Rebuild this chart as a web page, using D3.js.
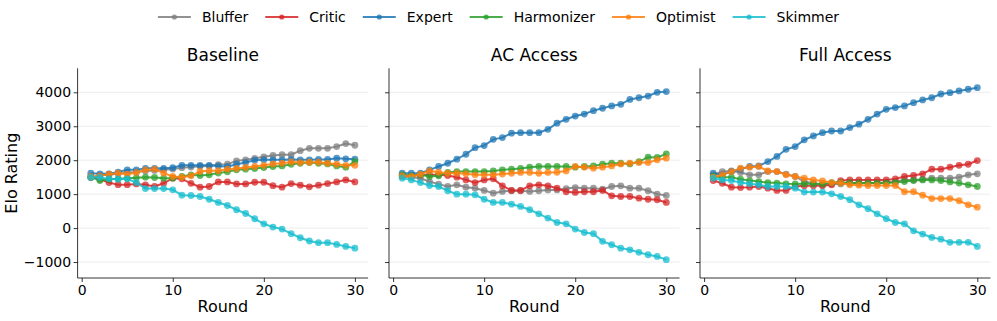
<!DOCTYPE html>
<html>
<head>
<meta charset="utf-8">
<script src="https://cdn.jsdelivr.net/npm/d3@7"></script>
<style>
  body { margin: 0; background: #fff; }
  svg { font-family: "DejaVu Sans", sans-serif; }
</style>
</head>
<body>
<div id="chart"></div>
<script>
const rounds = d3.range(1, 31);
const agents = ['Bluffer', 'Critic', 'Expert', 'Harmonizer', 'Optimist', 'Skimmer'];
const agentColors = ['#7f7f7f', '#d62728', '#1f77b4', '#2ca02c', '#ff7f0e', '#17becf'];
const panelTitles = ['Baseline', 'AC Access', 'Full Access'];
const yTicks = [-1000, 0, 1000, 2000, 3000, 4000];
const xTicks = [0, 10, 20, 30];

// Baseline
const baseBluffer = [1480,1550,1580,1600,1630,1650,1680,1700,1720,1740,1780,1800,1820,1830,1870,1880,1980,2010,2050,2100,2140,2160,2160,2280,2350,2350,2350,2400,2490,2440];
const baseCritic = [1520,1440,1340,1280,1280,1300,1275,1225,1320,1470,1450,1320,1205,1225,1360,1360,1300,1300,1350,1350,1250,1205,1310,1265,1215,1265,1310,1360,1420,1360];
const baseExpert = [1617,1600,1600,1650,1715,1715,1760,1760,1760,1780,1850,1850,1850,1850,1830,1810,1880,1930,2000,2010,2010,2010,2020,2010,2010,2020,2020,2060,2040,2030];
const baseHarmonizer = [1500,1400,1440,1450,1470,1480,1500,1490,1470,1470,1520,1570,1550,1570,1620,1660,1715,1735,1755,1785,1815,1830,1880,1910,1930,1910,1890,1830,1795,1960];
const baseOptimist = [1520,1540,1590,1620,1590,1640,1715,1735,1620,1520,1500,1540,1670,1690,1690,1735,1755,1785,1815,1850,1890,1910,1950,1930,1940,1940,1910,1880,1850,1850];
const baseSkimmer = [1500,1490,1450,1440,1450,1340,1165,1165,1165,1127,970,960,930,850,755,665,540,430,275,127,30,-30,-165,-285,-380,-430,-430,-480,-540,-590];

// AC Access
const acBluffer = [1520,1500,1470,1370,1295,1225,1275,1205,1175,1110,1030,1080,1100,1100,1080,1100,1125,1125,1165,1195,1175,1175,1145,1225,1245,1175,1175,1100,1000,960];
const acCritic = [1540,1540,1570,1570,1570,1550,1500,1420,1340,1420,1450,1245,1110,1110,1245,1275,1245,1175,1070,1050,1070,1070,1110,950,930,930,880,850,835,755];
const acExpert = [1615,1615,1615,1715,1815,1910,2030,2175,2370,2430,2615,2665,2795,2810,2810,2810,2910,3090,3205,3300,3360,3460,3530,3600,3645,3790,3840,3890,4000,4020];
const acHarmonizer = [1570,1540,1570,1520,1540,1640,1665,1665,1665,1665,1685,1715,1735,1755,1795,1815,1815,1815,1815,1795,1815,1830,1880,1910,1910,1890,1960,2090,2080,2185];
const acOptimist = [1540,1520,1590,1685,1645,1615,1615,1600,1570,1570,1570,1590,1615,1640,1640,1615,1640,1645,1685,1815,1795,1765,1795,1830,1890,1910,1930,1930,2010,2060];
const acSkimmer = [1470,1420,1340,1255,1225,1100,1000,1000,980,850,755,755,705,637,540,420,295,165,127,-30,-130,-165,-390,-490,-590,-640,-715,-785,-835,-930];

// Full Access
const faBluffer = [1570,1665,1685,1635,1570,1570,1665,1665,1590,1520,1370,1325,1275,1300,1300,1325,1325,1325,1325,1345,1370,1420,1420,1440,1470,1470,1470,1500,1570,1600];
const faCritic = [1400,1320,1205,1195,1205,1225,1175,1110,1110,1225,1245,1245,1245,1275,1400,1420,1420,1420,1420,1420,1450,1520,1550,1600,1735,1735,1795,1850,1880,1990];
const faExpert = [1615,1570,1665,1735,1815,1830,1960,2110,2320,2400,2600,2715,2810,2860,2860,2960,3060,3205,3360,3500,3550,3600,3695,3775,3840,3950,3990,4040,4090,4135];
const faHarmonizer = [1520,1500,1500,1440,1400,1370,1340,1325,1305,1300,1305,1305,1300,1340,1340,1330,1325,1325,1325,1325,1340,1370,1400,1420,1420,1400,1360,1325,1275,1225];
const faOptimist = [1500,1570,1665,1765,1795,1815,1685,1665,1570,1520,1470,1420,1390,1340,1325,1275,1265,1255,1255,1255,1255,1070,1070,970,870,870,870,805,685,615];
const faSkimmer = [1470,1420,1400,1340,1305,1275,1225,1225,1225,1175,1060,1060,1060,1010,930,835,685,570,420,275,165,127,-80,-175,-275,-325,-420,-420,-420,-540];

const panelSeries = [
  [baseBluffer, baseCritic, baseExpert, baseHarmonizer, baseOptimist, baseSkimmer],
  [acBluffer, acCritic, acExpert, acHarmonizer, acOptimist, acSkimmer],
  [faBluffer, faCritic, faExpert, faHarmonizer, faOptimist, faSkimmer]
];

const W = 997, H = 321;
const panelLeft = [77.6, 389, 700];
const panelW = 290.5;
const plotTop = 68.3, plotBottom = 278;

const svg = d3.select('#chart').append('svg')
  .attr('width', W).attr('height', H);

const y = d3.scaleLinear().domain([-1470, 4707]).range([plotBottom, plotTop]);
const color = d3.scaleOrdinal().domain(agents).range(agentColors);

panelTitles.forEach(function(title, p) {
  const x = d3.scaleLinear().domain([-0.45, 31.45]).range([panelLeft[p], panelLeft[p] + panelW]);
  const g = svg.append('g');

  // grid
  g.selectAll('.grid').data(yTicks).enter().append('line')
    .attr('x1', x.range()[0]).attr('x2', x.range()[1])
    .attr('y1', d => y(d)).attr('y2', d => y(d))
    .attr('stroke', '#b0b0b0').attr('stroke-opacity', 0.3).attr('stroke-width', 0.8);

  const xAxis = d3.axisBottom(x).tickValues(xTicks).tickSize(4).tickPadding(3).tickFormat(d3.format('d'));
  const gx = g.append('g').attr('transform', 'translate(0,' + plotBottom + ')').call(xAxis);
  gx.select('.domain').attr('stroke', '#000').attr('stroke-width', 0.8).attr('d', 'M' + x.range()[0] + ',0H' + x.range()[1]);
  gx.selectAll('.tick line').attr('stroke', '#000').attr('stroke-width', 0.8);
  gx.selectAll('.tick text').attr('font-size', '14px').attr('fill', '#000').attr('font-family', 'DejaVu Sans');

  const yAxis = d3.axisLeft(y).tickValues(yTicks).tickSize(4).tickPadding(2.5)
    .tickFormat(p === 0 ? (d => d < 0 ? '\u2212' + Math.abs(d) : d) : '');
  const gy = g.append('g').attr('transform', 'translate(' + x.range()[0] + ',0)').call(yAxis);
  gy.select('.domain').attr('stroke', '#000').attr('stroke-width', 0.8).attr('d', 'M0,' + plotBottom + 'V' + plotTop);
  gy.selectAll('.tick line').attr('stroke', '#000').attr('stroke-width', 0.8);
  gy.selectAll('.tick text').attr('font-size', '14px').attr('fill', '#000').attr('font-family', 'DejaVu Sans');

  g.append('text')
    .attr('x', x.range()[0] + panelW / 2).attr('y', 61)
    .attr('text-anchor', 'middle').attr('font-size', '17px').attr('fill', '#000')
    .text(title);

  g.append('text')
    .attr('x', x.range()[0] + panelW / 2).attr('y', 312)
    .attr('text-anchor', 'middle').attr('font-size', '16px').attr('fill', '#000')
    .text('Round');

  const line = d3.line().x((d, i) => x(rounds[i])).y(d => y(d));

  panelSeries[p].forEach(function(vals, s) {
    const c = color(agents[s]);
    g.append('path').datum(vals)
      .attr('d', line).attr('fill', 'none')
      .attr('stroke', c).attr('stroke-width', 2).attr('stroke-opacity', 0.85);
    g.selectAll('.pt' + s).data(vals).enter().append('circle')
      .attr('cx', (d, i) => x(rounds[i])).attr('cy', d => y(d))
      .attr('r', 3.4).attr('fill', c).attr('fill-opacity', 0.75);
  });
});

svg.append('text')
  .attr('transform', 'translate(17,' + ((plotTop + plotBottom) / 2) + ') rotate(-90)')
  .attr('text-anchor', 'middle').attr('font-size', '16px').attr('fill', '#000')
  .text('Elo Rating');

// legend
const legend = svg.append('g');
let lx = 0;
agents.forEach(function(a, i) {
  const item = legend.append('g').attr('transform', 'translate(' + lx + ',0)');
  item.append('line').attr('x1', 0).attr('x2', 33).attr('y1', 0).attr('y2', 0)
    .attr('stroke', agentColors[i]).attr('stroke-width', 2).attr('stroke-opacity', 0.85);
  item.append('circle').attr('cx', 16.5).attr('cy', 0).attr('r', 2.6)
    .attr('fill', agentColors[i]).attr('fill-opacity', 0.8);
  const t = item.append('text').attr('x', 44).attr('y', 5)
    .attr('font-size', '14px').attr('fill', '#000').text(a);
  lx += 44 + t.node().getComputedTextLength() + 17;
});
const legendW = lx - 17;
legend.attr('transform', 'translate(' + ((W - legendW) / 2) + ',17)');
</script>
</body>
</html>
